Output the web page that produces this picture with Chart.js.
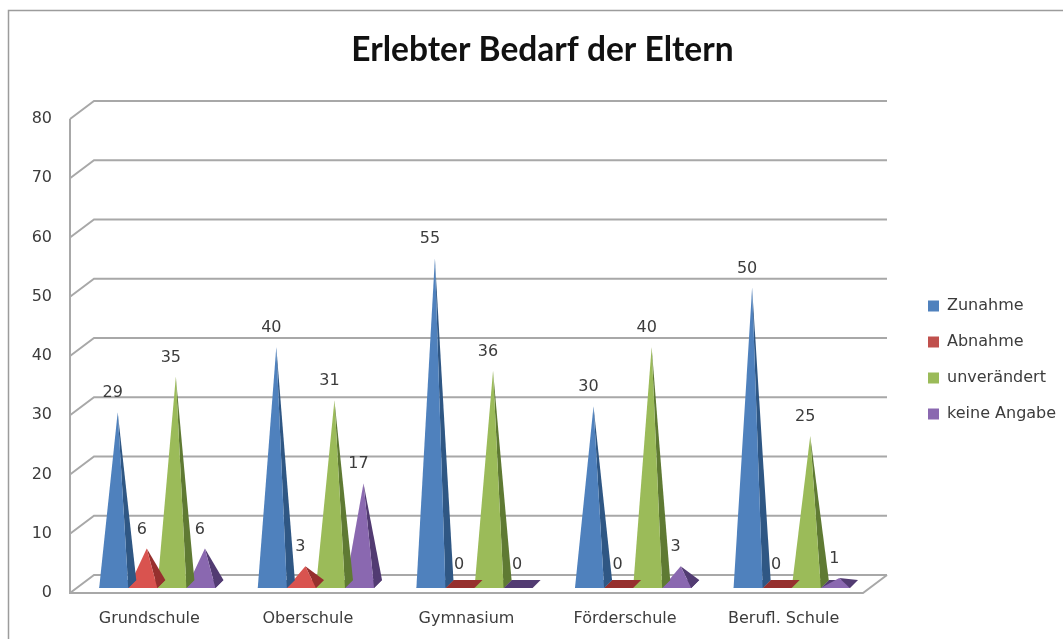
<!DOCTYPE html>
<html>
<head>
<meta charset="utf-8">
<title>Erlebter Bedarf der Eltern</title>
<script src="https://cdn.jsdelivr.net/npm/chart.js@4/dist/chart.umd.js"></script>
<style>
  html, body { margin: 0; padding: 0; background: #fff; }
  #wrap { width: 1063px; height: 639px; }
</style>
</head>
<body>
<div id="wrap"><canvas id="chart"></canvas></div>
<script>
// data
const categories = ['Grundschule', 'Oberschule', 'Gymnasium', 'Förderschule', 'Berufl. Schule'];
const zunahme = [29, 40, 55, 30, 50];
const abnahme = [6, 3, 0, 0, 0];
const unveraendert = [35, 31, 36, 40, 25];
const keineAngabe = [6, 17, 0, 3, 1];

// 3d look: half depth of the floor, the scales sit in the middle plane
const DEPTH_X = 12;
const DEPTH_Y = 9;
const BASE_X = 4;
const BASE_Y = 4;
const TEXT = '#3c3c3c';
const GRID = '#a8a8a8';
const LABEL_FONT = '"DejaVu Sans"';

// pyramid bar, same geometry as a bar, only the shape differs
class PyramidElement extends Chart.BarElement {
    static id = 'pyramid';
    draw(ctx) {
        const {x, y, base, width} = this.getProps(['x', 'y', 'base', 'width']);
        const front = this.options.backgroundColor;
        const side = this.options.borderColor;
        const left = x - width / 2;
        const right = x + width / 2;
        const shape = (color, pts) => {
            ctx.fillStyle = color;
            ctx.beginPath();
            pts.forEach((p, i) => i ? ctx.lineTo(p[0], p[1]) : ctx.moveTo(p[0], p[1]));
            ctx.closePath();
            ctx.fill();
        };
        const fl = [left - BASE_X, base + BASE_Y];
        const fr = [right - BASE_X, base + BASE_Y];
        const br = [right + BASE_X, base - BASE_Y];
        const bl = [left + BASE_X, base - BASE_Y];
        const apex = [x, y];
        ctx.save();
        shape(side, [fl, fr, br, bl]);
        // value 0 stays a flat plate
        if (base - y >= 1) {
            shape(side, [fr, br, apex]);
            shape(front, [fl, fr, apex]);
        }
        ctx.restore();
    }
}
class PyramidController extends Chart.BarController {
    static id = 'pyramid';
    static defaults = {...Chart.BarController.defaults, dataElementType: 'pyramid'};
}
Chart.register(PyramidElement, PyramidController);

// frame, floor and back wall, taken from the y scale
const wallsPlugin = {
    id: 'walls',
    beforeDatasetsDraw(chart) {
        const {ctx, chartArea: area, scales: {y}} = chart;
        ctx.save();
        ctx.strokeStyle = '#9c9c9c';
        ctx.lineWidth = 1.5;
        ctx.beginPath();
        ctx.moveTo(8.5, chart.height);
        ctx.lineTo(8.5, 10.5);
        ctx.lineTo(chart.width, 10.5);
        ctx.stroke();

        ctx.strokeStyle = GRID;
        ctx.lineWidth = 2;
        y.ticks.forEach(t => {
            const py = y.getPixelForValue(t.value);
            ctx.beginPath();
            ctx.moveTo(area.left - DEPTH_X, py + DEPTH_Y);
            ctx.lineTo(area.left + DEPTH_X, py - DEPTH_Y);
            ctx.lineTo(area.right + DEPTH_X, py - DEPTH_Y);
            ctx.stroke();
        });
        const top = y.getPixelForValue(y.max);
        const zero = y.getPixelForValue(0);
        ctx.beginPath();
        ctx.moveTo(area.left - DEPTH_X, top + DEPTH_Y);
        ctx.lineTo(area.left - DEPTH_X, zero + DEPTH_Y);
        ctx.lineTo(area.right - DEPTH_X, zero + DEPTH_Y);
        ctx.lineTo(area.right + DEPTH_X, zero - DEPTH_Y);
        ctx.stroke();
        ctx.restore();
    },
    // value labels over the tips
    afterDatasetsDraw(chart) {
        const {ctx} = chart;
        ctx.save();
        ctx.fillStyle = TEXT;
        ctx.font = '16px ' + LABEL_FONT;
        ctx.textAlign = 'center';
        ctx.textBaseline = 'middle';
        chart.data.datasets.forEach((ds, i) => {
            chart.getDatasetMeta(i).data.forEach((bar, j) => {
                ctx.fillText(ds.data[j], bar.x - 5, bar.y - 19);
            });
        });
        ctx.restore();
    }
};

// legend and title sit off their default layout spots
const placePlugin = {
    id: 'place',
    beforeInit(chart) {
        const fit = chart.legend.fit;
        chart.legend.fit = function() {
            fit.call(this);
            this.width = 188;
        };
    },
    afterLayout(chart) {
        const legend = chart.legend;
        const pad = legend.options.labels.padding;
        legend.left = 928 - pad;
        legend.top = 278;
        chart.titleBlock.left += 22;
    }
};

new Chart(document.getElementById('chart'), {
    type: 'pyramid',
    data: {
        labels: categories,
        datasets: [
            {label: 'Zunahme', data: zunahme, backgroundColor: '#4f81bd', borderColor: '#2f5784', clip: false},
            {label: 'Abnahme', data: abnahme, backgroundColor: '#d9534f', borderColor: '#96302e', clip: false},
            {label: 'unverändert', data: unveraendert, backgroundColor: '#9bbb59', borderColor: '#5f7a33', clip: false},
            {label: 'keine Angabe', data: keineAngabe, backgroundColor: '#8a68b0', borderColor: '#523b72', clip: false}
        ]
    },
    options: {
        responsive: true,
        maintainAspectRatio: false,
        animation: false,
        barPercentage: 1,
        categoryPercentage: 0.733,
        layout: {padding: 0},
        scales: {
            x: {
                grid: {display: false, drawTicks: false},
                border: {display: false},
                afterFit: s => { s.height = 55; },
                ticks: {
                    color: TEXT,
                    font: {family: LABEL_FONT, size: 16},
                    padding: 25,
                    labelOffset: -DEPTH_X,
                    maxRotation: 0
                }
            },
            y: {
                min: 0,
                max: 80,
                grid: {display: false, drawTicks: false},
                border: {display: false},
                afterFit: s => { s.width = 82; },
                ticks: {
                    stepSize: 10,
                    color: TEXT,
                    font: {family: LABEL_FONT, size: 16},
                    padding: 30,
                    labelOffset: DEPTH_Y
                }
            }
        },
        plugins: {
            tooltip: {enabled: false},
            title: {
                display: true,
                text: 'Erlebter Bedarf der Eltern',
                color: '#111',
                font: {family: 'Lato', size: 33.5, weight: 'bold', lineHeight: 1.2},
                padding: {top: 30, bottom: 39.8}
            },
            legend: {
                position: 'right',
                align: 'start',
                labels: {
                    color: TEXT,
                    font: {family: LABEL_FONT, size: 16},
                    boxWidth: 11,
                    boxHeight: 11,
                    padding: 20,
                    generateLabels(chart) {
                        const items = Chart.defaults.plugins.legend.labels.generateLabels(chart);
                        items[1].fillStyle = '#c0504d';
                        return items;
                    }
                }
            }
        }
    },
    plugins: [wallsPlugin, placePlugin]
});
</script>
</body>
</html>
